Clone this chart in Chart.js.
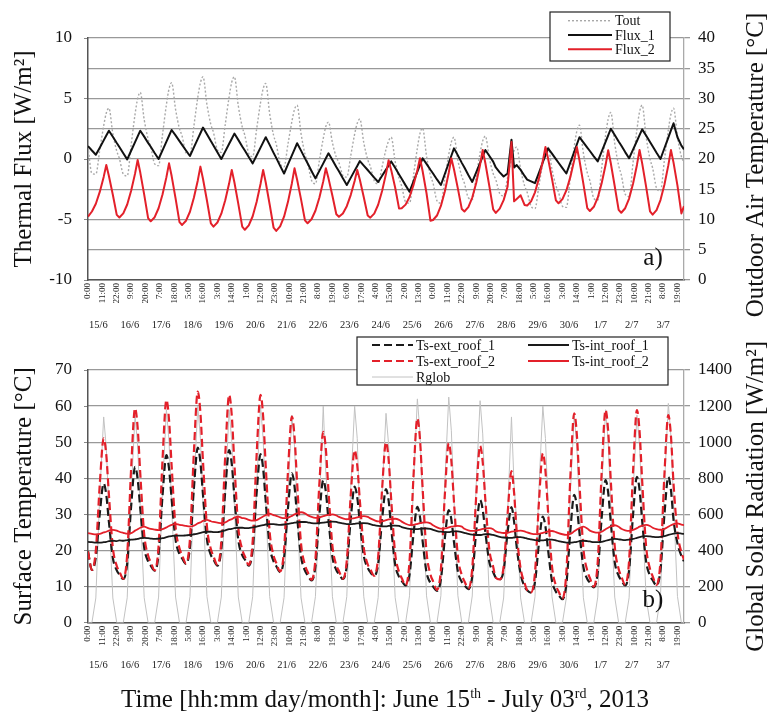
<!DOCTYPE html>
<html>
<head>
<meta charset="utf-8">
<script src="https://cdn.jsdelivr.net/npm/chart.js@4.4.1/dist/chart.umd.min.js"></script>
<style>
  html, body { margin: 0; padding: 0; background: #fff; }
  #wrap { position: relative; width: 770px; height: 713px; overflow: hidden; font-family: "Liberation Serif", "Times New Roman", serif; }
  #c1 { position: absolute; left: 0; top: 0; }
  #c2 { position: absolute; left: 0; top: 330px; }
  #xtitle { position: absolute; left: 0; width: 770px; top: 686px; text-align: center; font-size: 25px; line-height: 25px; color: #111; }
  #xtitle sup { font-size: 14px; line-height: 0; vertical-align: 9px; }
</style>
</head>
<body>
<div id="wrap">
  <canvas id="c1" width="770" height="345"></canvas>
  <canvas id="c2" width="770" height="360"></canvas>
  <div id="xtitle">Time [hh:mm day/month]: June 15<sup>th</sup> - July 03<sup>rd</sup>, 2013</div>
</div>
<script>
// ── categories ────────────────────────────────────────────────
const dayLabels = ['15/6','16/6','17/6','18/6','19/6','20/6','21/6','22/6','23/6','24/6',
                   '25/6','26/6','27/6','28/6','29/6','30/6','1/7','2/7','3/7'];
const dayHours = [0, 3, 6, 9, 12, 14, 16, 19, 22];   // sample hours read each day
const hourTickLabels = ['0:00','11:00','22:00','9:00','20:00','7:00','18:00','5:00','16:00','3:00',
  '14:00','1:00','12:00','23:00','10:00','21:00','8:00','19:00','6:00','17:00','4:00','15:00',
  '2:00','13:00','0:00','11:00','22:00','9:00','20:00','7:00','18:00','5:00','16:00','3:00',
  '14:00','1:00','12:00','23:00','10:00','21:00','8:00','19:00'];
const hourTickPos = hourTickLabels.map((_, i) => i * 11);   // a label every 11 h
const dayTickPos = dayLabels.map((_, i) => i * 24 + 8);

const hours = [];
dayLabels.forEach((_, d) => dayHours.forEach(h => hours.push(d * 24 + h)));
hours.push(456);

// ── panel a) ──────────────────────────────────────────────────
const tout = [
  [22.0, 17.6, 17.5, 21.5, 25.5, 27.6, 28.4, 24.2, 21.3],
  [20.1, 17.5, 17.2, 22.3, 27.4, 30.0, 31.0, 26.5, 23.3],
  [22.0, 19.2, 18.9, 24.0, 29.0, 31.6, 32.6, 28.2, 25.0],
  [23.8, 21.0, 20.7, 25.4, 30.2, 32.6, 33.6, 29.0, 25.7],
  [24.4, 21.5, 21.1, 25.7, 30.3, 32.7, 33.6, 28.8, 25.3],
  [23.9, 20.9, 20.4, 24.9, 29.3, 31.6, 32.5, 27.5, 23.9],
  [22.5, 19.3, 18.7, 22.5, 26.2, 28.2, 28.9, 24.2, 20.8],
  [19.4, 16.5, 15.9, 19.7, 23.4, 25.4, 26.1, 22.7, 20.3],
  [19.4, 17.3, 17.0, 20.5, 24.1, 25.9, 26.6, 22.7, 19.9],
  [18.8, 16.4, 15.9, 18.7, 21.6, 23.0, 23.6, 19.6, 16.8],
  [15.5, 12.9, 12.7, 17.2, 21.8, 24.2, 25.1, 20.5, 17.3],
  [16.0, 13.1, 12.7, 16.7, 20.7, 22.8, 23.6, 19.8, 17.1],
  [16.0, 13.6, 13.3, 17.1, 21.0, 23.0, 23.8, 20.2, 17.6],
  [16.6, 14.3, 13.9, 16.9, 19.9, 21.4, 22.0, 18.3, 15.6],
  [14.5, 12.2, 11.8, 15.6, 19.3, 21.3, 22.0, 18.3, 15.6],
  [14.5, 12.2, 12.0, 17.0, 22.0, 24.6, 25.6, 21.0, 17.7],
  [16.4, 13.5, 13.2, 18.5, 23.9, 26.6, 27.7, 22.6, 18.9],
  [17.4, 14.2, 13.8, 19.4, 24.9, 27.8, 28.9, 23.7, 20.0],
  [18.5, 15.2, 14.7, 19.8, 24.8, 27.4, 28.4, 23.7, 20.4]
].flat().concat([19.5]);

const flux1 = [
  [1.07, 0.70, 0.35, 0.93, 1.54, 1.94, 2.34, 1.84, 1.32],
  [0.99, 0.47, -0.03, 0.68, 1.39, 1.87, 2.34, 1.85, 1.33],
  [1.01, 0.49, 0.00, 0.72, 1.44, 1.92, 2.40, 1.95, 1.48],
  [1.17, 0.70, 0.25, 0.96, 1.66, 2.13, 2.60, 2.05, 1.48],
  [1.12, 0.55, 0.00, 0.63, 1.26, 1.68, 2.10, 1.58, 1.04],
  [0.70, 0.16, -0.36, 0.29, 0.94, 1.37, 1.80, 1.17, 0.51],
  [0.09, -0.57, -1.20, -0.45, 0.30, 0.80, 1.30, 0.69, 0.05],
  [-0.35, -0.99, -1.60, -0.98, -0.36, 0.06, 0.47, -0.08, -0.66],
  [-1.02, -1.60, -2.15, -1.56, -0.96, -0.57, -0.17, -0.54, -0.91],
  [-1.16, -1.54, -1.90, -1.39, -0.88, -0.54, -0.20, -0.73, -1.28],
  [-1.63, -2.18, -2.70, -1.87, -1.04, -0.49, 0.06, -0.40, -0.89],
  [-1.20, -1.69, -2.15, -1.24, -0.33, 0.27, 0.88, 0.30, -0.32],
  [-0.70, -1.32, -1.90, -1.11, -0.32, 0.21, 0.74, 0.27, -0.22],
  [-0.70, -1.10, -1.45, -1.20, 1.60, -0.70, -0.50, -0.90, -1.40],
  [-1.70, -1.85, -2.00, -1.14, -0.27, 0.30, 0.88, 0.44, -0.01],
  [-0.31, -0.76, -1.20, -0.30, 0.60, 1.20, 1.80, 1.38, 0.94],
  [0.66, 0.22, -0.20, 0.61, 1.42, 1.96, 2.50, 1.99, 1.45],
  [1.11, 0.57, 0.06, 0.78, 1.49, 1.97, 2.45, 1.94, 1.40],
  [1.05, 0.51, 0.00, 0.89, 1.77, 2.36, 2.95, 1.80, 1.10]
].flat().concat([0.8]);

const flux2 = [
  [-4.77, -4.34, -3.70, -2.72, -1.48, -0.50, -1.40, -2.96, -4.62],
  [-4.83, -4.49, -3.76, -2.63, -1.21, -0.08, -1.12, -2.95, -4.88],
  [-5.15, -4.81, -4.07, -2.93, -1.50, -0.36, -1.41, -3.26, -5.22],
  [-5.45, -5.10, -4.36, -3.21, -1.77, -0.63, -1.65, -3.43, -5.32],
  [-5.59, -5.25, -4.52, -3.41, -2.01, -0.90, -1.92, -3.71, -5.59],
  [-5.85, -5.49, -4.73, -3.55, -2.07, -0.90, -1.94, -3.76, -5.68],
  [-5.94, -5.57, -4.77, -3.54, -2.00, -0.77, -1.71, -3.34, -5.07],
  [-5.31, -4.98, -4.28, -3.20, -1.85, -0.77, -1.60, -3.04, -4.57],
  [-4.78, -4.50, -3.90, -2.98, -1.82, -0.90, -1.72, -3.16, -4.67],
  [-4.85, -4.51, -3.78, -2.65, -1.23, -0.10, -0.92, -2.36, -4.10],
  [-4.07, -3.77, -3.14, -2.16, -0.92, 0.06, -0.99, -2.83, -5.10],
  [-5.04, -4.67, -3.88, -2.68, -1.15, 0.06, -0.85, -2.45, -4.14],
  [-4.34, -3.98, -3.19, -1.98, -0.47, 0.74, -0.33, -2.20, -4.17],
  [-4.45, -4.10, -3.40, -2.30, 1.40, -3.50, -3.30, -3.00, -3.80],
  [-3.85, -3.50, -2.75, -1.60, -0.15, 1.00, 0.04, -1.64, -3.42],
  [-3.66, -3.32, -2.60, -1.50, -0.10, 1.00, -0.10, -2.03, -4.06],
  [-4.30, -3.95, -3.20, -2.00, -0.50, 0.72, -0.35, -2.25, -4.20],
  [-4.44, -4.07, -3.27, -2.04, -0.49, 0.74, -0.36, -2.29, -4.33],
  [-4.60, -4.22, -3.39, -2.13, -0.53, 0.74, -0.30, -2.20, -4.50]
].flat().concat([-3.9]);

// ── panel b) ──────────────────────────────────────────────────
const extRoof1 = [
  [19.7, 14.6, 18.2, 30.2, 38.6, 35.4, 27.9, 18.0, 14.5],
  [13.4, 12.1, 16.5, 32.2, 43.2, 39.7, 31.6, 20.8, 17.0],
  [15.8, 14.4, 18.9, 35.1, 46.4, 42.7, 34.2, 23.0, 19.0],
  [17.8, 16.3, 20.9, 37.1, 48.5, 44.5, 35.3, 23.1, 18.8],
  [17.5, 15.8, 20.3, 36.5, 47.8, 43.9, 34.9, 22.9, 18.7],
  [17.5, 15.8, 20.2, 35.8, 46.7, 42.7, 33.5, 21.3, 17.0],
  [15.7, 14.0, 17.9, 31.7, 41.4, 37.8, 29.4, 18.3, 14.4],
  [13.2, 11.7, 15.6, 29.7, 39.5, 36.2, 28.4, 18.2, 14.6],
  [13.5, 12.1, 15.7, 28.6, 37.7, 34.7, 27.7, 18.5, 15.2],
  [14.0, 13.0, 16.3, 28.5, 37.0, 33.8, 26.2, 16.2, 12.7],
  [11.6, 10.3, 13.3, 24.4, 32.1, 29.3, 22.7, 14.0, 11.0],
  [10.0, 8.8, 12.0, 23.3, 31.2, 28.6, 22.4, 14.2, 11.3],
  [10.4, 9.3, 12.8, 25.3, 34.0, 31.3, 25.1, 16.9, 14.0],
  [12.5, 12.0, 14.5, 25.0, 32.0, 28.0, 21.0, 13.5, 10.0],
  [9.0, 8.3, 11.3, 21.9, 29.4, 26.6, 20.2, 11.6, 8.6],
  [7.7, 6.5, 10.7, 25.2, 35.4, 32.3, 25.0, 15.5, 12.1],
  [11.1, 9.8, 14.0, 29.0, 39.5, 36.0, 27.7, 16.8, 13.0],
  [11.8, 10.3, 14.6, 29.8, 40.4, 36.8, 28.2, 17.0, 13.0],
  [11.8, 10.3, 14.6, 29.8, 40.4, 36.8, 28.5, 22.0, 18.5]
].flat().concat([17.0]);

const extRoof2 = [
  [19.7, 14.6, 20.1, 38.3, 51.1, 46.4, 35.4, 20.8, 15.7],
  [14.2, 12.2, 18.9, 42.7, 59.4, 54.0, 41.3, 24.5, 18.6],
  [16.8, 14.5, 21.2, 45.0, 61.7, 56.2, 43.4, 26.5, 20.6],
  [18.7, 16.4, 23.2, 47.2, 64.0, 58.2, 44.6, 26.7, 20.4],
  [18.4, 16.0, 22.6, 46.4, 63.1, 57.4, 44.1, 26.4, 20.3],
  [18.4, 16.0, 22.6, 46.4, 63.1, 57.2, 43.3, 25.1, 18.6],
  [16.6, 14.2, 20.2, 41.9, 57.1, 51.6, 38.8, 21.9, 16.0],
  [14.1, 11.9, 17.6, 38.4, 52.9, 48.0, 36.5, 21.3, 15.9],
  [14.3, 12.2, 17.2, 35.2, 47.8, 43.6, 33.8, 20.8, 16.2],
  [14.8, 13.0, 18.3, 36.9, 50.0, 45.2, 34.0, 19.2, 14.0],
  [12.4, 10.4, 17.0, 40.3, 56.6, 50.8, 37.4, 19.6, 13.4],
  [11.5, 9.1, 14.8, 35.3, 49.7, 44.8, 33.5, 18.4, 13.2],
  [11.5, 9.5, 15.1, 35.0, 49.0, 44.5, 34.1, 20.4, 15.5],
  [12.5, 12.0, 15.5, 30.0, 42.0, 36.0, 25.0, 15.0, 11.0],
  [9.0, 8.4, 13.9, 33.3, 46.9, 42.0, 30.7, 15.6, 10.3],
  [8.7, 6.7, 14.1, 39.9, 58.0, 52.2, 38.6, 20.7, 14.4],
  [12.4, 10.0, 16.9, 41.6, 58.9, 53.0, 39.3, 21.2, 14.9],
  [12.9, 10.5, 17.3, 41.8, 58.9, 53.0, 39.3, 21.2, 14.9],
  [12.9, 10.5, 17.1, 40.9, 57.5, 51.8, 38.5, 25.0, 19.5]
].flat().concat([17.5]);

const intRoof1 = [
  [22.4, 22.3, 22.2, 22.2, 22.3, 22.4, 22.6, 22.7, 22.6],
  [22.8, 22.7, 22.9, 23.0, 23.1, 23.2, 23.4, 23.5, 23.4],
  [23.3, 23.2, 23.3, 23.4, 23.7, 23.9, 24.0, 24.1, 24.1],
  [24.1, 24.2, 24.3, 24.5, 24.7, 24.9, 25.1, 25.2, 25.2],
  [25.1, 25.1, 25.3, 25.6, 25.9, 26.0, 26.2, 26.3, 26.3],
  [26.2, 26.2, 26.4, 26.6, 26.9, 27.0, 27.2, 27.3, 27.3],
  [27.2, 27.1, 27.2, 27.4, 27.6, 27.7, 27.8, 27.9, 27.9],
  [27.8, 27.6, 27.5, 27.6, 27.7, 27.8, 27.9, 28.0, 27.9],
  [27.7, 27.5, 27.3, 27.3, 27.4, 27.5, 27.5, 27.6, 27.5],
  [27.3, 27.0, 26.8, 26.7, 26.7, 26.8, 26.9, 26.9, 26.8],
  [26.5, 26.2, 26.0, 25.9, 25.9, 26.0, 26.1, 26.1, 26.0],
  [25.7, 25.4, 25.2, 25.1, 25.1, 25.2, 25.3, 25.3, 25.1],
  [24.9, 24.6, 24.4, 24.3, 24.3, 24.4, 24.5, 24.5, 24.3],
  [24.1, 23.8, 23.6, 23.5, 23.5, 23.6, 23.7, 23.7, 23.5],
  [23.3, 23.1, 22.9, 22.8, 22.8, 22.9, 23.0, 23.0, 22.8],
  [22.6, 22.4, 22.2, 22.2, 22.3, 22.4, 22.6, 22.7, 22.6],
  [22.5, 22.3, 22.3, 22.4, 22.7, 22.9, 23.1, 23.2, 23.1],
  [23.0, 22.9, 23.0, 23.2, 23.5, 23.7, 23.9, 24.0, 23.9],
  [23.8, 23.7, 23.8, 24.0, 24.3, 24.5, 24.7, 24.8, 24.7]
].flat().concat([24.6]);

const intRoof2 = [
  [24.8, 24.6, 24.45, 24.6, 25.0, 25.2, 25.5, 25.7, 25.5],
  [25.2, 24.9, 24.65, 24.8, 25.5, 25.9, 26.3, 26.6, 26.2],
  [26.0, 25.8, 25.65, 25.9, 26.4, 26.8, 27.1, 27.4, 27.1],
  [27.0, 26.8, 26.65, 26.9, 27.5, 27.8, 28.2, 28.5, 28.1],
  [27.9, 27.7, 27.55, 27.8, 28.4, 28.7, 29.1, 29.4, 29.0],
  [28.9, 28.5, 28.25, 28.4, 29.0, 29.4, 29.8, 30.2, 29.8],
  [29.6, 29.2, 28.95, 29.1, 29.6, 30.0, 30.3, 30.6, 30.3],
  [29.8, 29.3, 29.05, 29.2, 29.5, 29.7, 29.9, 30.0, 29.7],
  [29.3, 28.9, 28.65, 28.8, 29.0, 29.2, 29.4, 29.5, 29.3],
  [28.9, 28.4, 28.05, 28.1, 28.4, 28.6, 28.7, 28.8, 28.5],
  [28.0, 27.4, 27.05, 27.1, 27.4, 27.6, 27.7, 27.8, 27.5],
  [27.0, 26.4, 26.05, 26.1, 26.4, 26.6, 26.7, 26.8, 26.6],
  [26.0, 25.6, 25.45, 25.5, 25.8, 26.0, 26.1, 26.2, 25.9],
  [25.3, 25.0, 24.85, 24.9, 25.2, 25.3, 25.4, 25.5, 25.3],
  [25.0, 24.7, 24.55, 24.6, 24.9, 25.1, 25.3, 25.4, 25.1],
  [24.8, 24.5, 24.35, 24.6, 25.3, 25.8, 26.2, 26.6, 26.1],
  [25.5, 25.1, 24.95, 25.2, 25.9, 26.3, 26.7, 27.0, 26.6],
  [26.0, 25.6, 25.45, 25.7, 26.2, 26.6, 26.9, 27.1, 26.8],
  [26.3, 25.9, 25.75, 26.0, 26.6, 27.0, 27.3, 27.5, 27.2]
].flat().concat([27.0]);

const rglob = [
  [0, 0, 137, 707, 1140, 969, 627, 137, 0],
  [0, 0, 138, 713, 1150, 978, 633, 138, 0],
  [0, 0, 142, 732, 1180, 1003, 649, 142, 0],
  [0, 0, 144, 744, 1200, 1020, 660, 144, 0],
  [0, 0, 142, 732, 1180, 1003, 649, 142, 0],
  [0, 0, 144, 744, 1200, 1020, 660, 144, 0],
  [0, 0, 138, 713, 1150, 978, 633, 138, 0],
  [0, 0, 144, 640, 1200, 820, 660, 144, 0],
  [0, 0, 144, 744, 1200, 1020, 560, 144, 0],
  [0, 0, 139, 719, 1160, 986, 638, 139, 0],
  [0, 0, 149, 769, 1240, 1054, 682, 149, 0],
  [0, 0, 150, 775, 1250, 1063, 688, 150, 0],
  [0, 0, 148, 763, 1230, 1046, 677, 148, 0],
  [0, 0, 137, 600, 1140, 760, 560, 137, 0],
  [0, 0, 144, 744, 1200, 1020, 660, 144, 0],
  [0, 0, 138, 713, 1150, 978, 633, 138, 0],
  [0, 0, 142, 732, 1180, 1003, 649, 142, 0],
  [0, 0, 138, 713, 1150, 978, 633, 138, 0],
  [0, 0, 146, 753, 1215, 1033, 668, 146, 0]
].flat().concat([0]);

// ── helpers ───────────────────────────────────────────────────
const SERIF = '"Liberation Serif", "Times New Roman", serif';
const RED = '#e3202a';

// framed legend drawn from the datasets' own styles
const boxLegend = {
  id: 'boxLegend',
  afterDraw(chart, args, o) {
    if (!o.items) return;
    const ctx = chart.ctx;
    ctx.save();
    ctx.fillStyle = '#fff';
    ctx.fillRect(o.x, o.y, o.w, o.h);
    ctx.strokeStyle = '#222';
    ctx.lineWidth = 1.2;
    ctx.strokeRect(o.x, o.y, o.w, o.h);
    ctx.font = '14px ' + SERIF;
    ctx.textBaseline = 'middle';
    o.items.forEach(it => {
      const ds = chart.data.datasets[it.ds];
      ctx.strokeStyle = ds.borderColor;
      ctx.lineWidth = ds.borderWidth;
      ctx.setLineDash(ds.borderDash || []);
      ctx.beginPath();
      ctx.moveTo(it.x, it.y);
      ctx.lineTo(it.x + it.len, it.y);
      ctx.stroke();
      ctx.setLineDash([]);
      ctx.fillStyle = '#111';
      ctx.fillText(ds.label, it.x + it.len + 3, it.y + 1);
    });
    ctx.restore();
  }
};

// right-hand axis title (reads bottom-to-top) and panel tag
const decor = {
  id: 'decor',
  afterDraw(chart, args, o) {
    if (!o.tag) return;
    const {ctx, chartArea: a} = chart;
    ctx.save();
    ctx.fillStyle = '#111';
    ctx.font = '25px ' + SERIF;
    ctx.textAlign = 'center';
    ctx.textBaseline = 'middle';
    ctx.fillText(o.tag, a.right - 31, a.bottom - 22);
    ctx.translate(o.titleX, (a.top + a.bottom) / 2 + (o.shift || 0));
    ctx.rotate(-Math.PI / 2);
    ctx.fillText(o.rightTitle, 0, 0);
    ctx.restore();
  }
};

function xScales(hHours, hDates) {
  return {
    x: {
      type: 'linear', min: 0, max: 456, position: 'bottom',
      grid: { display: false, drawTicks: false },
      border: { color: '#555', width: 1.5 },
      afterBuildTicks: s => { s.ticks = hourTickPos.map(v => ({ value: v })); },
      afterFit: s => { s.height = hHours; },
      ticks: {
        autoSkip: false, minRotation: 90, maxRotation: 90, padding: 3, color: '#222',
        font: { family: SERIF, size: 9 },
        callback: (v, i) => hourTickLabels[i]
      }
    },
    x2: {
      type: 'linear', min: 0, max: 456, position: 'bottom', weight: 1,
      grid: { display: false, drawTicks: false },
      border: { display: false },
      afterBuildTicks: s => { s.ticks = dayTickPos.map(v => ({ value: v })); },
      afterFit: s => { s.height = hDates; },
      ticks: {
        autoSkip: false, maxRotation: 0, minRotation: 0, padding: 2, color: '#222',
        font: { family: SERIF, size: 10.5 },
        callback: (v, i) => dayLabels[i]
      }
    }
  };
}

function leftAxis(min, max, step, title) {
  return {
    position: 'left', min, max,
    ticks: { stepSize: step, padding: 12, color: '#111', font: { family: SERIF, size: 17 },
             callback: v => String(v) },
    grid: { drawOnChartArea: false, tickLength: 4, color: '#888' },
    border: { color: '#555', width: 1.5 },
    title: { display: true, text: title, color: '#111', font: { family: SERIF, size: 25 }, padding: { top: 9, bottom: 0 } },
    afterFit: s => { s.width = 88; }
  };
}

function rightAxis(min, max, step) {
  return {
    position: 'right', min, max,
    ticks: { stepSize: step, padding: 8, color: '#111', font: { family: SERIF, size: 17 },
             callback: v => String(v) },
    grid: { color: '#999', lineWidth: 1.3, tickLength: 6 },
    border: { color: '#aaa', width: 1.3 },
    afterFit: s => { s.width = 86; }
  };
}

const lineBase = { pointRadius: 0, fill: false, borderJoinStyle: 'round' };

// ── chart a) ──────────────────────────────────────────────────
new Chart(document.getElementById('c1'), {
  type: 'line',
  data: {
    labels: hours,
    datasets: [
      { ...lineBase, label: 'Tout', data: tout, yAxisID: 'y1', order: 3,
        borderColor: '#a8a8a8', borderWidth: 1.4, borderDash: [2, 2], cubicInterpolationMode: 'monotone' },
      { ...lineBase, label: 'Flux_1', data: flux1, yAxisID: 'y', order: 2,
        borderColor: '#111', borderWidth: 2 },
      { ...lineBase, label: 'Flux_2', data: flux2, yAxisID: 'y', order: 1,
        borderColor: RED, borderWidth: 2 }
    ]
  },
  options: {
    responsive: false, animation: false,
    layout: { padding: { top: 38, left: 0, right: 0, bottom: 0 } },
    scales: {
      ...xScales(37, 28),
      y: leftAxis(-10, 10, 5, 'Thermal Flux [W/m²]'),
      y1: rightAxis(0, 40, 5)
    },
    plugins: {
      legend: { display: false }, tooltip: { enabled: false },
      boxLegend: { x: 550, y: 12, w: 120, h: 49, items: [
        { ds: 0, x: 568, y: 20.7, len: 44 },
        { ds: 1, x: 568, y: 35, len: 44 },
        { ds: 2, x: 568, y: 49.3, len: 44 }
      ] },
      decor: { tag: 'a)', titleX: 756, shift: 6, rightTitle: 'Outdoor Air Temperature [°C]' }
    }
  },
  plugins: [boxLegend, decor]
});

// ── chart b) ──────────────────────────────────────────────────
new Chart(document.getElementById('c2'), {
  type: 'line',
  data: {
    labels: hours,
    datasets: [
      { ...lineBase, label: 'Ts-ext_roof_1', data: extRoof1, yAxisID: 'y', order: 4,
        borderColor: '#1a1a1a', borderWidth: 2.2, borderDash: [8, 4], cubicInterpolationMode: 'monotone' },
      { ...lineBase, label: 'Ts-ext_roof_2', data: extRoof2, yAxisID: 'y', order: 3,
        borderColor: RED, borderWidth: 2.2, borderDash: [8, 4], cubicInterpolationMode: 'monotone' },
      { ...lineBase, label: 'Ts-int_roof_1', data: intRoof1, yAxisID: 'y', order: 2,
        borderColor: '#1a1a1a', borderWidth: 1.8, cubicInterpolationMode: 'monotone' },
      { ...lineBase, label: 'Ts-int_roof_2', data: intRoof2, yAxisID: 'y', order: 1,
        borderColor: RED, borderWidth: 1.8, cubicInterpolationMode: 'monotone' },
      { ...lineBase, label: 'Rglob', data: rglob, yAxisID: 'y1', order: 5,
        borderColor: '#c2c2c2', borderWidth: 1 }
    ]
  },
  options: {
    responsive: false, animation: false,
    layout: { padding: { top: 40, left: 0, right: 0, bottom: 0 } },
    scales: {
      ...xScales(34, 33.3),
      y: leftAxis(0, 70, 10, 'Surface Temperature [°C]'),
      y1: rightAxis(0, 1400, 200)
    },
    plugins: {
      legend: { display: false }, tooltip: { enabled: false },
      boxLegend: { x: 357, y: 7, w: 311, h: 48, items: [
        { ds: 0, x: 372, y: 15, len: 41 },
        { ds: 2, x: 528, y: 15, len: 41 },
        { ds: 1, x: 372, y: 31, len: 41 },
        { ds: 3, x: 528, y: 31, len: 41 },
        { ds: 4, x: 372, y: 47, len: 41 }
      ] },
      decor: { tag: 'b)', titleX: 756, shift: 0, rightTitle: 'Global Solar Radiation [W/m²]' }
    }
  },
  plugins: [boxLegend, decor]
});
</script>
</body>
</html>
